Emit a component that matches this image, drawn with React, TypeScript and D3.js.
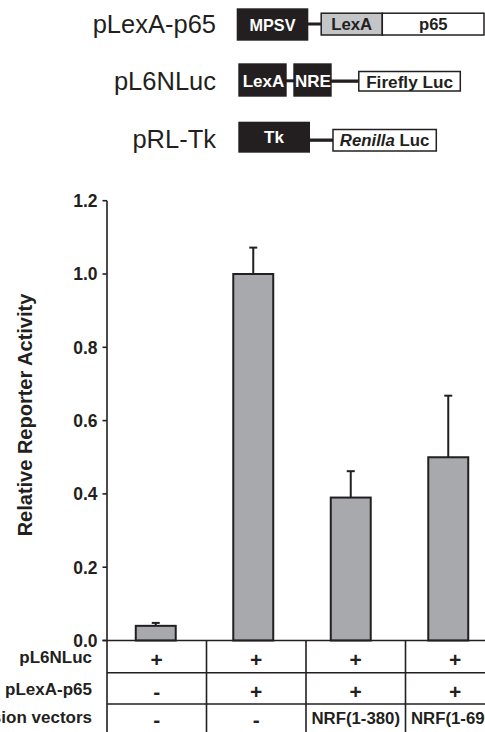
import React from 'react';
import * as d3 from 'd3';

// chart data
const categories = ['none', 'p65', 'nrf380', 'nrf690'];
const values = [0.04, 1.0, 0.39, 0.5];
const errors = [0.008, 0.072, 0.072, 0.168];
const yTicks = [0, 0.2, 0.4, 0.6, 0.8, 1.0, 1.2];

// table under the bars
const rowLabels = ['pL6NLuc', 'pLexA-p65', 'Expression vectors'];
const rowPL6NLuc = ['+', '+', '+', '+'];
const rowPLexA = ['-', '+', '+', '+'];
const rowVectors = ['-', '-', 'NRF(1-380)', 'NRF(1-690)'];

// construct names
const constructs = ['pLexA-p65', 'pL6NLuc', 'pRL-Tk'];

const FONT = '"Liberation Sans", Arial, Helvetica, sans-serif';
const INK = '#231f20';
const BAR = '#a7a9ac';

const App = () => {
  const width = 485;
  const height = 732;
  const axisX = 107;

  const y = d3.scaleLinear().domain([0, 1.2]).range([640.5, 200.7]);

  const xBar = d3.scaleBand<string>()
    .domain(categories)
    .range([axisX, 497])
    .paddingInner(0.59)
    .paddingOuter(0.295);

  const xCol = d3.scaleBand<string>()
    .domain(categories)
    .range([axisX, 505]);

  const rowLines = [640.5, 672.7, 704, 736];
  const rowBaselines = [662.5, 695, 723];
  const rows = [rowPL6NLuc, rowPLexA, rowVectors];

  return (
    <svg width={width} height={height}
      style={{ position: 'absolute', left: 0, top: 0, background: '#fff' }}
      fontFamily={FONT}>
      {/* construct diagram */}
      <g fill={INK}>
        {constructs.map((c, i) => (
          <text key={c} x={216} y={[33.3, 90, 148.3][i]} textAnchor="end" fontSize={25.5}>{c}</text>
        ))}

        {/* pLexA-p65 */}
        <rect x={236.7} y={8.3} width={71.6} height={32.4} fill={INK} />
        <text x={272.5} y={30.5} textAnchor="middle" fill="#fff" fontWeight="bold" fontSize={16.2}>MPSV</text>
        <rect x={308} y={22.5} width={13} height={3} fill={INK} />
        <rect x={321.2} y={13.2} width={61.1} height={21.8} fill="#c4c5c7" stroke={INK} strokeWidth={1.5} />
        <text x={351.7} y={29.5} textAnchor="middle" fontWeight="bold" fontSize={16.8}>LexA</text>
        <rect x={382.3} y={13.2} width={101.7} height={21.8} fill="#fff" stroke={INK} strokeWidth={1.5} />
        <text x={433.3} y={29.5} textAnchor="middle" fontWeight="bold" fontSize={16.6}>p65</text>

        {/* pL6NLuc */}
        <rect x={238.3} y={63.3} width={48.4} height={33.4} fill={INK} />
        <text x={263.5} y={87} textAnchor="middle" fill="#fff" fontWeight="bold" fontSize={17}>LexA</text>
        <rect x={286} y={79.3} width={8} height={3} fill={INK} />
        <rect x={293.3} y={63.3} width={38.4} height={33.4} fill={INK} />
        <text x={313} y={87} textAnchor="middle" fill="#fff" fontWeight="bold" fontSize={17}>NRE</text>
        <rect x={331} y={79.5} width={28} height={3.3} fill={INK} />
        <rect x={358.8} y={71.5} width={101.5} height={19.5} fill="#fff" stroke={INK} strokeWidth={1.5} />
        <text x={409.6} y={88} textAnchor="middle" fontWeight="bold" fontSize={17.2}>Firefly Luc</text>

        {/* pRL-Tk */}
        <rect x={238.3} y={121.7} width={71.7} height={31} fill={INK} />
        <text x={274} y={143} textAnchor="middle" fill="#fff" fontWeight="bold" fontSize={17}>Tk</text>
        <rect x={309.5} y={138.5} width={24} height={3.3} fill={INK} />
        <rect x={333} y={129.5} width={103.3} height={21.5} fill="#fff" stroke={INK} strokeWidth={1.5} />
        <text x={384.6} y={146} textAnchor="middle" fontWeight="bold" fontSize={16.8}>
          <tspan fontStyle="italic">Renilla</tspan> Luc
        </text>
      </g>

      {/* y axis */}
      <line x1={axisX} x2={axisX} y1={y(1.2)} y2={height} stroke={INK} strokeWidth={1.6} />
      {yTicks.map(t => (
        <g key={t}>
          <line x1={axisX - 4.5} x2={axisX} y1={y(t)} y2={y(t)} stroke={INK} strokeWidth={1.6} />
          <text x={97.5} y={y(t)} dy="0.36em" textAnchor="end" fontWeight="bold" fontSize={17.5} fill={INK}>
            {t.toFixed(1)}
          </text>
        </g>
      ))}
      <text transform={`translate(25,415) rotate(-90)`} dy="0.35em" textAnchor="middle"
        fontWeight="bold" fontSize={20} fill={INK}>Relative Reporter Activity</text>

      {/* bars with error bars */}
      {categories.map((c, i) => {
        const bx = xBar(c) as number;
        const bw = xBar.bandwidth();
        const cx = bx + bw / 2;
        const top = values[i] + errors[i];
        return (
          <g key={c}>
            <line x1={cx} x2={cx} y1={y(values[i])} y2={y(top)} stroke={INK} strokeWidth={2} />
            <line x1={cx - 4} x2={cx + 4} y1={y(top)} y2={y(top)} stroke={INK} strokeWidth={2} />
            <rect x={bx} y={y(values[i])} width={bw} height={y(0) - y(values[i])}
              fill={BAR} stroke={INK} strokeWidth={2} />
          </g>
        );
      })}

      {/* table */}
      {rowLines.map(ly => (
        <line key={ly} x1={axisX - 4.5 * (ly === rowLines[0] ? 1 : 0)} x2={width} y1={ly} y2={ly}
          stroke={INK} strokeWidth={1.6} />
      ))}
      {categories.slice(1).map(c => (
        <line key={c} x1={xCol(c)} x2={xCol(c)} y1={rowLines[0]} y2={height} stroke={INK} strokeWidth={1.6} />
      ))}
      {rowLabels.map((l, r) => (
        <text key={l} x={92} y={rowBaselines[r]} textAnchor="end" fontWeight="bold" fontSize={17} fill={INK}>{l}</text>
      ))}
      {rows.map((row, r) => row.map((v, i) => {
        const cx = (xCol(categories[i]) as number) + xCol.bandwidth() / 2;
        const isSign = v === '+' || v === '-';
        return (
          <text key={`${r}-${i}`} x={cx} y={rowBaselines[r] + (isSign ? 4 : 1)} textAnchor="middle"
            fontWeight="bold" fontSize={isSign ? 21 : 16.8} fill={INK}>{v}</text>
        );
      }))}
    </svg>
  );
};

export default App;
